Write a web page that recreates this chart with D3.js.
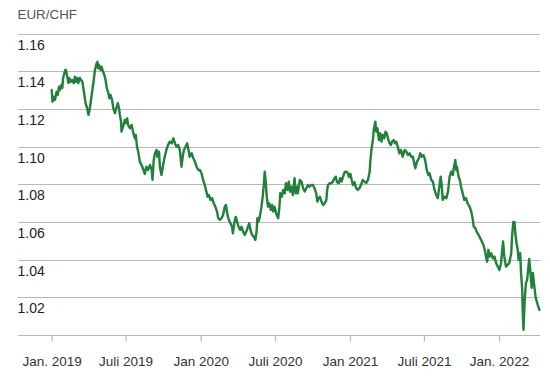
<!DOCTYPE html>
<html>
<head>
<meta charset="utf-8">
<script src="https://cdn.jsdelivr.net/npm/d3@7"></script>
<style>
  html, body { margin: 0; padding: 0; background: #fff; }
  svg { display: block; font-family: "Liberation Sans", Arial, Helvetica, sans-serif; }
</style>
</head>
<body>
<svg id="chart" width="550" height="379"></svg>
<script>
// ---- Data ----
const title = "EUR/CHF";
const startDate = "2019-01-01";
// days after 2019-01-01
const dayOffsets = [0,2,6,8,12,15,18,20,24,26,28,33,35,38,41,43,47,50,54,57,59,63,65,69,72,75,79,83,87,90,93,98,102,106,110,112,114,116,120,122,126,129,132,135,139,141,144,148,151,155,158,162,165,167,170,171,175,179,182,185,187,192,196,200,204,206,209,212,216,220,224,228,232,236,241,245,247,250,253,257,259,263,265,269,273,277,281,285,289,294,298,302,306,310,314,318,321,324,328,332,336,338,343,347,351,355,359,363,367,371,375,379,382,385,389,393,397,401,405,408,412,416,420,424,427,430,434,438,442,444,448,451,455,458,462,465,469,473,477,481,484,487,491,495,499,502,504,507,510,514,517,520,522,524,527,530,533,537,540,543,546,550,553,555,558,560,564,567,571,574,578,581,584,587,591,595,598,601,603,608,612,616,620,624,628,632,636,640,644,648,651,654,657,661,665,669,673,675,677,681,685,689,693,696,699,703,707,710,714,718,722,726,728,732,735,738,742,746,750,754,759,762,767,771,775,779,781,784,787,789,793,795,798,802,805,808,811,815,818,821,825,828,831,834,838,841,844,848,852,856,860,865,869,873,877,881,885,889,891,895,900,903,907,911,915,919,923,926,930,934,938,942,946,950,953,956,958,962,967,971,975,979,983,985,989,991,993,997,1000,1003,1007,1011,1015,1019,1024,1028,1032,1034,1038,1041,1046,1050,1054,1058,1061,1064,1067,1070,1073,1077,1081,1085,1089,1093,1097,1101,1104,1106,1109,1113,1117,1121,1126,1128,1131,1134,1136,1139,1142,1144,1148,1150,1153,1154,1156,1159,1162,1165,1170,1173,1176,1179,1183,1186,1191,1195];
const rates = [1.1300,1.1238,1.1265,1.1247,1.1291,1.1274,1.1318,1.1300,1.1327,1.1311,1.1364,1.1406,1.1406,1.1371,1.1337,1.1364,1.1344,1.1353,1.1337,1.1371,1.1344,1.1364,1.1337,1.1364,1.1353,1.1344,1.1291,1.1230,1.1203,1.1168,1.1194,1.1274,1.1336,1.1406,1.1442,1.1450,1.1415,1.1433,1.1406,1.1424,1.1397,1.1380,1.1353,1.1309,1.1283,1.1256,1.1274,1.1247,1.1203,1.1177,1.1203,1.1230,1.1203,1.1168,1.1132,1.1079,1.1106,1.1141,1.1124,1.1150,1.1115,1.1097,1.1115,1.1071,1.1044,1.1062,1.0999,1.0973,1.0920,1.0902,1.0881,1.0855,1.0893,1.0876,1.0902,1.0876,1.0823,1.0929,1.0964,1.0982,1.0946,1.0973,1.0893,1.0849,1.0902,1.0946,1.0982,1.1008,1.1026,1.1017,1.1044,1.1017,1.0999,1.1008,1.0982,1.0893,1.0946,1.0982,1.0999,1.1017,1.0973,1.0946,1.0964,1.0938,1.0920,1.0893,1.0876,1.0876,1.0858,1.0823,1.0796,1.0761,1.0734,1.0743,1.0717,1.0726,1.0699,1.0681,1.0655,1.0620,1.0611,1.0620,1.0637,1.0681,1.0690,1.0646,1.0611,1.0593,1.0575,1.0540,1.0602,1.0627,1.0595,1.0573,1.0558,1.0575,1.0549,1.0531,1.0549,1.0575,1.0593,1.0558,1.0531,1.0522,1.0505,1.0549,1.0620,1.0602,1.0628,1.0681,1.0734,1.0805,1.0867,1.0823,1.0734,1.0681,1.0699,1.0664,1.0690,1.0655,1.0681,1.0646,1.0628,1.0620,1.0681,1.0752,1.0734,1.0770,1.0752,1.0805,1.0770,1.0814,1.0761,1.0787,1.0743,1.0832,1.0752,1.0787,1.0752,1.0823,1.0814,1.0779,1.0761,1.0779,1.0796,1.0787,1.0796,1.0796,1.0779,1.0752,1.0708,1.0726,1.0734,1.0708,1.0690,1.0699,1.0717,1.0770,1.0796,1.0805,1.0805,1.0814,1.0833,1.0840,1.0812,1.0805,1.0832,1.0814,1.0840,1.0865,1.0867,1.0858,1.0839,1.0855,1.0823,1.0796,1.0812,1.0779,1.0770,1.0779,1.0802,1.0823,1.0812,1.0807,1.0823,1.0865,1.0929,1.0993,1.1035,1.1088,1.1132,1.1079,1.1097,1.1035,1.1071,1.1026,1.1062,1.1044,1.1079,1.1071,1.1035,1.1017,1.1008,1.1026,1.1035,1.1017,1.1026,1.0999,1.0964,1.0982,1.0946,1.0982,1.0973,1.0955,1.0964,1.0946,1.0946,1.0902,1.0885,1.0920,1.0938,1.0964,1.0946,1.0955,1.0929,1.0876,1.0849,1.0858,1.0823,1.0814,1.0770,1.0744,1.0726,1.0787,1.0840,1.0787,1.0717,1.0734,1.0726,1.0761,1.0840,1.0867,1.0849,1.0885,1.0929,1.0876,1.0893,1.0840,1.0823,1.0787,1.0752,1.0717,1.0726,1.0699,1.0681,1.0655,1.0611,1.0575,1.0567,1.0549,1.0531,1.0514,1.0496,1.0478,1.0452,1.0416,1.0389,1.0452,1.0416,1.0434,1.0407,1.0416,1.0381,1.0363,1.0345,1.0381,1.0452,1.0496,1.0416,1.0363,1.0372,1.0381,1.0434,1.0522,1.0600,1.0600,1.0540,1.0487,1.0452,1.0398,1.0434,1.0328,1.0239,1.0133,1.0027,1.0186,1.0276,1.0292,1.0404,1.0335,1.0250,1.0329,1.0250,1.0197,1.0160,1.0133];
const yTicks = [1.02, 1.04, 1.06, 1.08, 1.10, 1.12, 1.14, 1.16];
const xTickDates = ["2019-01-01", "2019-07-01", "2020-01-01", "2020-07-01", "2021-01-01", "2021-07-01", "2022-01-01"];
const xTickLabels = ["Jan. 2019", "Juli 2019", "Jan 2020", "Juli 2020", "Jan 2021", "Juli 2021", "Jan. 2022"];

// ---- Chart ----
const svg = d3.select("#chart");
const parse = d3.utcParse("%Y-%m-%d");
const t0 = parse(startDate);
const data = dayOffsets.map((d, i) => ({ date: d3.utcDay.offset(t0, d), value: rates[i] }));

const x = d3.scaleUtc()
  .domain([parse("2019-01-01"), parse("2022-01-01")])
  .range([51.7, 499]);
const y = d3.scaleLinear().domain([1.00, 1.16]).range([335, 33.5]);

const gridLeft = 18, gridRight = 540;

// title
svg.append("text")
  .attr("x", 17.5).attr("y", 19)
  .attr("font-size", 13.4).attr("fill", "#555")
  .text(title);

// gridlines incl. baseline
const gridVals = [1.00].concat(yTicks);
svg.append("g").selectAll("line").data(gridVals).join("line")
  .attr("x1", gridLeft).attr("x2", gridRight)
  .attr("y1", d => Math.round(y(d)) + 0.5).attr("y2", d => Math.round(y(d)) + 0.5)
  .attr("stroke", "#b8b8b8").attr("stroke-width", 1.2);

// y labels (below each gridline)
svg.append("g").selectAll("text").data(yTicks).join("text")
  .attr("x", 17.5).attr("y", d => y(d) + 16)
  .attr("font-size", 14).attr("fill", "#222")
  .text(d => d3.format(".2f")(d));

// x axis via d3 axis
const xAxis = d3.axisBottom(x)
  .tickValues(xTickDates.map(parse))
  .tickFormat((d, i) => xTickLabels[i])
  .tickSize(6).tickPadding(15);
const gx = svg.append("g").attr("transform", `translate(0,${Math.round(y(1.00)) + 0.5})`).call(xAxis);
gx.select(".domain").remove();
gx.selectAll(".tick line").attr("stroke", "#b8b8b8").attr("stroke-width", 1.2);
gx.selectAll(".tick text").attr("font-size", 13.5).attr("fill", "#333")
  .attr("font-family", "'Liberation Sans', Arial, Helvetica, sans-serif");

// line
const line = d3.line().x(d => x(d.date)).y(d => y(d.value)).curve(d3.curveLinear);
svg.append("path").datum(data)
  .attr("d", line)
  .attr("fill", "none")
  .attr("stroke", "#21803c")
  .attr("stroke-width", 2.4)
  .attr("stroke-linejoin", "round")
  .attr("stroke-linecap", "round");
</script>
</body>
</html>
